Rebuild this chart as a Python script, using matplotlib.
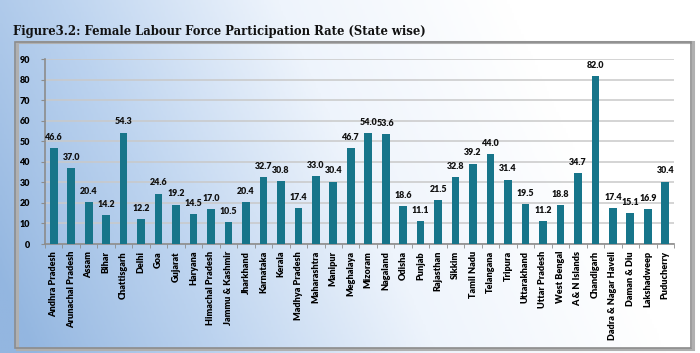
import matplotlib

matplotlib.use("Agg")
import matplotlib.pyplot as plt
import numpy as np
from matplotlib.colors import LinearSegmentedColormap
from matplotlib.patches import Rectangle

TITLE = "Figure3.2: Female Labour Force Participation Rate (State wise)"
STATES = [
    "Andhra Pradesh", "Arunachal Pradesh", "Assam", "Bihar", "Chattisgarh",
    "Delhi", "Goa", "Gujarat", "Haryana", "Himachal Pradesh",
    "Jammu & Kashmir", "Jharkhand", "Karnataka", "Kerala", "Madhya Pradesh",
    "Maharashtra", "Manipur", "Meghalaya", "Mizoram", "Nagaland",
    "Odisha", "Punjab", "Rajasthan", "Sikkim", "Tamil Nadu",
    "Telangana", "Tripura", "Uttarakhand", "Uttar Pradesh", "West Bengal",
    "A & N Islands", "Chandigarh", "Dadra & Nagar Haveli", "Daman & Diu",
    "Lakshadweep", "Puducherry",
]
RATES = [
    46.6, 37.0, 20.4, 14.2, 54.3,
    12.2, 24.6, 19.2, 14.5, 17.0,
    10.5, 20.4, 32.7, 30.8, 17.4,
    33.0, 30.4, 46.7, 54.0, 53.6,
    18.6, 11.1, 21.5, 32.8, 39.2,
    44.0, 31.4, 19.5, 11.2, 18.8,
    34.7, 82.0, 17.4, 15.1, 16.9,
    30.4,
]
Y_TICKS = list(range(0, 100, 10))

BAR_COLOR = "#17758a"
GRID_COLOR = "#c9c9c9"
SPINE_COLOR = "#8c8c8c"
SMALL_FONT = ["Lato", "DejaVu Sans"]

W, H = 700, 353
fig = plt.figure(figsize=(W / 100, H / 100), dpi=100)

# mostly horizontal blue -> white background
bg = fig.add_axes([0, 0, 1, 1], zorder=-10)
bg.set_axis_off()
xx, yy = np.meshgrid(np.linspace(0, 1, 300), np.linspace(1, 0, 150))
blend = np.clip(1.1 * xx + 0.25 * yy - 0.05, 0, 1) ** 0.9
cmap = LinearSegmentedColormap.from_list(
    "bg", ["#93b6e0", "#bcd3ef", "#eef4fc", "#ffffff"]
)
bg.imshow(blend, cmap=cmap, aspect="auto", extent=[0, 1, 0, 1], vmin=0, vmax=1)
bg.set_xlim(0, 1)
bg.set_ylim(0, 1)

# chart panel frame
bg.add_patch(Rectangle((17 / W, 1 - 349 / H), 676 / W, 307 / H,
                       fill=False, edgecolor="#b0b0b0", lw=2.2, zorder=2))
bg.add_patch(Rectangle((15 / W, 1 - 348 / H), 676 / W, 306 / H,
                       fill=False, edgecolor=SPINE_COLOR, lw=1.2, zorder=3))

fig.text(13 / W, 1 - 31 / H, TITLE, fontsize=8.4, fontweight="heavy",
         family=["DejaVu Serif Condensed", "DejaVu Serif"], color="#111111",
         va="center", ha="left")

ax = fig.add_axes([45 / W, 1 - 244 / H, 629 / W, (244 - 59.3) / H])
ax.patch.set_alpha(0)
x = np.arange(len(STATES))
ax.bar(x, RATES, width=0.44, color=BAR_COLOR, zorder=3)
for xi, val in zip(x, RATES):
    ax.text(xi, val + 3.0, f"{val:.1f}", ha="center", va="bottom",
            fontsize=6.4, fontweight="heavy", family=SMALL_FONT, color="#111111")

ax.set_xlim(-0.5, len(STATES) - 0.5)
ax.set_ylim(0, 90)
ax.set_yticks(Y_TICKS)
ax.set_yticklabels([str(t) for t in Y_TICKS], fontsize=6.5, fontweight="heavy",
                   family=SMALL_FONT)
ax.set_xticks(x)
ax.set_xticklabels(STATES, rotation=90, fontsize=6.6, fontweight="heavy",
                   family=SMALL_FONT)
ax.set_xticks(np.arange(-0.5, len(STATES), 1), minor=True)
ax.tick_params(axis="x", which="major", length=0, pad=5)
ax.tick_params(axis="x", which="minor", length=3, color=SPINE_COLOR)
ax.tick_params(axis="y", length=3, color=SPINE_COLOR, pad=8)
ax.grid(axis="y", color=GRID_COLOR, lw=1.1, zorder=0)
ax.set_axisbelow(True)
for side in ("top", "right"):
    ax.spines[side].set_visible(False)
for side in ("left", "bottom"):
    ax.spines[side].set_color(SPINE_COLOR)
    ax.spines[side].set_linewidth(1.2)

fig.savefig("out.png", dpi=100)
